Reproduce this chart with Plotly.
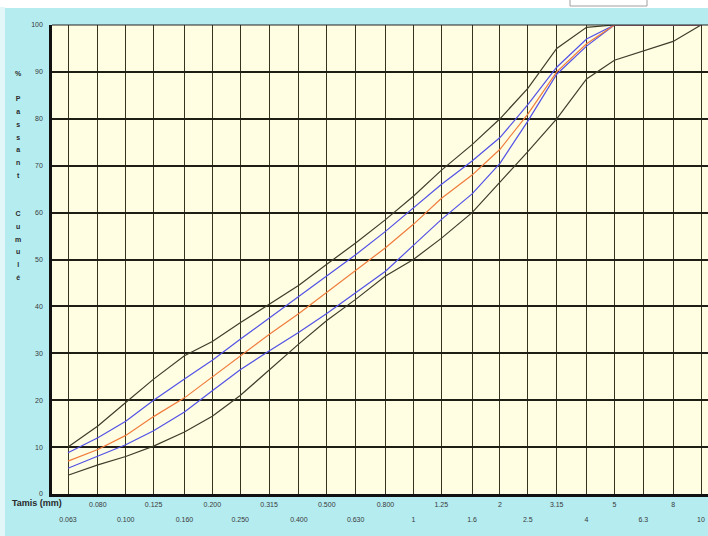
import plotly.graph_objects as go

# Sieve sizes (mm) – AFNOR series
sieves = [0.063, 0.08, 0.1, 0.125, 0.16, 0.2, 0.25, 0.315, 0.4, 0.5, 0.63, 0.8,
          1, 1.25, 1.6, 2, 2.5, 3.15, 4, 5, 6.3, 8, 10]
tick_labels = ["0.063", "0.080", "0.100", "0.125", "0.160", "0.200", "0.250", "0.315",
               "0.400", "0.500", "0.630", "0.800", "1", "1.25", "1.6", "2", "2.5",
               "3.15", "4", "5", "6.3", "8", "10"]

# % passing cumulative
upper_limit = [10, 14.5, 19.5, 24.5, 29.5, 32.5, 36.5, 40.5, 44.5, 49, 53.5, 58.5,
               63.5, 69, 74.5, 80, 86.5, 95, 99.5, 100, 100, 100, 100]
upper_inner = [8.8, 12, 15.5, 20, 24.5, 28.5, 33, 37.5, 42, 46.5, 51, 56,
               61, 66, 71, 76, 83, 91, 97, 100, 100, 100, 100]
middle = [7, 9.5, 12.5, 16.5, 20.5, 25, 29.5, 34, 38.5, 43, 47.5, 52.5,
          57.5, 63, 68, 73.5, 81, 90, 96, 100, 100, 100, 100]
lower_inner = [5.5, 8, 10.5, 13.5, 17.5, 22, 26.5, 30.5, 34.5, 38.5, 43, 47.5,
               53, 58.5, 64, 70.5, 79.5, 89.5, 95.5, 100, 100, 100, 100]
lower_limit = [4, 6.2, 8, 10.2, 13.2, 16.6, 21, 26.5, 32, 37, 41.5, 46.5,
               50, 54.5, 60, 66.5, 73, 80, 88.5, 92.5, 94.5, 96.5, 100]

y_ticks = [0, 10, 20, 30, 40, 50, 60, 70, 80, 90, 100]

bottom_row = [t if i % 2 == 0 else "" for i, t in enumerate(tick_labels)]
top_vals = [s for i, s in enumerate(sieves) if i % 2 == 1]
top_text = [t for i, t in enumerate(tick_labels) if i % 2 == 1]

fig = go.Figure()
env_color = "#3d3d2a"
blue = "#5252e6"
orange = "#f07c3c"
for ys, c, xa in [(upper_limit, env_color, "x"), (lower_limit, env_color, "x"),
                  (upper_inner, blue, "x"), (lower_inner, blue, "x"),
                  (middle, orange, "x2")]:
    fig.add_trace(go.Scatter(x=sieves, y=ys, mode="lines", xaxis=xa, yaxis="y",
                             line=dict(color=c, width=1.2), showlegend=False,
                             hoverinfo="skip"))

W, H = 708, 536
L, R, T, B = 52, 0, 25, 42
pw, ph = W - L - R, H - T - B
xr = [-1.2563, 1.0243]
tf = dict(family="Liberation Sans", size=7, color="#3a3a3a")

fig.update_layout(
    width=W, height=H,
    margin=dict(l=L, r=R, t=T, b=B, pad=0),
    paper_bgcolor="#b4ecf0",
    plot_bgcolor="#fffde2",
    xaxis=dict(type="log", range=xr,
               tickvals=sieves, ticktext=bottom_row, tickangle=0,
               showgrid=True, gridcolor="#35351f", gridwidth=1,
               ticks="", showline=True, linecolor="#111", linewidth=2.5,
               tickfont=tf, ticklabelstandoff=17,
               zeroline=False),
    xaxis2=dict(type="log", range=xr, overlaying="x", anchor="y", side="bottom",
                matches="x",
                tickvals=top_vals, ticktext=top_text, tickangle=0,
                showgrid=False, showline=False, ticks="", tickfont=tf,
                ticklabelstandoff=5, zeroline=False),
    yaxis=dict(range=[0, 100], tickvals=y_ticks,
               showgrid=True, gridcolor="#1e1e14", gridwidth=1.5,
               ticks="", showline=True, linecolor="#111", linewidth=2.5,
               tickfont=tf, ticklabelstandoff=5, zeroline=False),
    font=dict(family="Liberation Sans"),
)


def px_x(p):
    return (p - L) / pw


def px_y(p):
    return (ph - (p - T)) / ph


# white strip along the top and lighter strip at left (page margin look)
fig.add_shape(type="rect", xref="paper", yref="paper",
              x0=px_x(-2), x1=px_x(W + 2), y0=px_y(7.5), y1=px_y(-2),
              fillcolor="#ffffff", line=dict(color="#ffffff", width=1),
              layer="above")
fig.add_shape(type="rect", xref="paper", yref="paper",
              x0=px_x(-2), x1=px_x(4.5), y0=px_y(H + 2), y1=px_y(7.5),
              fillcolor="#e2f7f8", line=dict(color="#e2f7f8", width=1),
              layer="above")
# partial box at the top
fig.add_shape(type="rect", xref="paper", yref="paper",
              x0=px_x(570), x1=px_x(647), y0=px_y(6), y1=px_y(-3),
              fillcolor="#ffffff", line=dict(color="#a0a0a0", width=1),
              layer="above")
# top border of plot
fig.add_shape(type="line", xref="paper", yref="paper", x0=0, x1=1, y0=1, y1=1,
              line=dict(color="#222", width=1))

fig.add_annotation(text="<b>Tamis (mm)</b>", xref="paper", yref="paper",
                   x=px_x(10), y=px_y(503), xanchor="left",
                   yanchor="middle", showarrow=False,
                   font=dict(family="Liberation Sans", size=9, color="#2a2a2a"))

chars = list("%") + [" "] + list("Passant") + [" ", " "] + list("Cumulé")
ytitle = "<br>".join("<span style='font-size:7px'><b>%s</b></span>" % c if c != " " else " "
                     for c in chars)
fig.add_annotation(text=ytitle, xref="paper", yref="paper",
                   x=px_x(18), y=px_y(68), xanchor="center",
                   yanchor="top", showarrow=False, align="center",
                   font=dict(family="Liberation Sans", size=9.8, color="#2a2a2a"))

fig.write_html("out.html",
               config={"displayModeBar": False},
               post_script="document.body.style.margin='0';"
                           "document.documentElement.style.overflow='hidden';"
                           "document.body.style.overflow='hidden';")
